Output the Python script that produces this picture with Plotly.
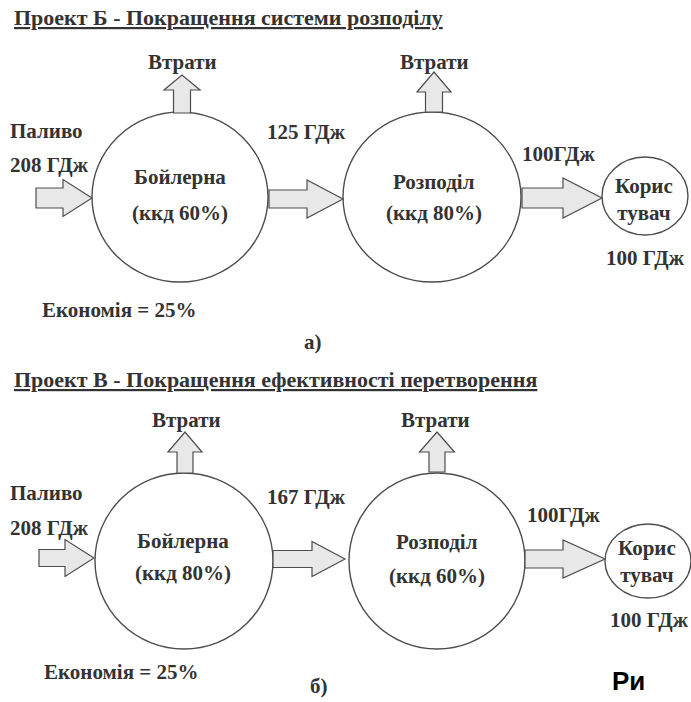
import plotly.graph_objects as go

# ---------------- data ----------------
project_titles = ["Проект Б - Покращення системи розподілу",
                  "Проект В - Покращення ефективності перетворення"]
panel_tags = ["а)", "б)"]
fuel_label = "Паливо"
loss_label = "Втрати"
stage_names = ["Бойлерна", "Розподіл", "Корис<br>тувач"]
unit = "ГДж"
fuel_input = [208, 208]          # ГДж
boiler_eff = [60, 80]            # %
distribution_eff = [80, 60]      # %
boiler_output = [125, 167]       # ГДж
distribution_output = [100, 100] # ГДж
consumer_energy = [100, 100]     # ГДж
savings = [25, 25]               # %
corner_text = "Ри"

# ---------------- layout geometry (pixels, not data) ----------------
W, H = 691, 702
panels = [
    dict(title_y=17, loss_y=62, loss_x=(182, 434), fuel_y=131, fuel_val_y=165,
         flow1=(265, 132), flow2=(520, 154),
         circles=[(180, 197, 88, 85), (432, 197, 89, 85), (645, 196, 43, 39)],
         stage_y=[(177, 213), (182, 213), (199, None)], stage_x=[180, 434, 644],
         user_val=(645, 258), savings=(40, 310), tag=(313, 342),
         arrows_r=[(36, 63, 92, 198, 10, 18.5), (269, 307, 343, 199, 9, 19),
                   (522, 563, 602, 198, 10, 20)],
         arrows_u=[(182, 113, 90, 75, 8.5, 18), (434, 112, 92, 72, 8.5, 17)]),
    dict(title_y=379, loss_y=420, loss_x=(186, 435), fuel_y=493, fuel_val_y=528,
         flow1=(265, 497), flow2=(525, 515),
         circles=[(184, 561, 89, 88), (437, 561, 88, 88), (648, 561, 43, 37)],
         stage_y=[(541, 573), (542, 576), (561, None)], stage_x=[183, 437, 647],
         user_val=(649, 620), savings=(42, 672), tag=(319, 686),
         arrows_r=[(39, 65, 94, 558, 8.5, 18.5), (273, 312, 345, 559, 8.5, 17.5),
                   (525, 563, 605, 559, 9, 19)],
         arrows_u=[(185, 473, 452, 432, 8, 17), (437, 472, 452, 432, 8, 17.5)]),
]

TXT = "#333333"
LINE = "#4d4d4d"
FILL = "#e8e8e8"
FONT = "Liberation Serif"
FS = 21
FS_TITLE = 22


def right_arrow(tail, base, tip, cy, sh, hh):
    return (f"M{tail},{cy-sh} L{base},{cy-sh} L{base},{cy-hh} L{tip},{cy} "
            f"L{base},{cy+hh} L{base},{cy+sh} L{tail},{cy+sh} Z")


def up_arrow(cx, bottom, base, tip, sw, hw):
    return (f"M{cx-sw},{bottom} L{cx-sw},{base} L{cx-hw},{base} L{cx},{tip} "
            f"L{cx+hw},{base} L{cx+sw},{base} L{cx+sw},{bottom} Z")


fig = go.Figure()
fig.add_trace(go.Scatter(x=[0, W], y=[0, H], mode="markers",
                         marker=dict(opacity=0), hoverinfo="skip", showlegend=False))

shapes, ann = [], []


def text(x, y, s, anchor="center", size=FS, color=TXT, family=FONT):
    ann.append(dict(x=x, y=y, xref="x", yref="y", text=s, showarrow=False,
                    xanchor=anchor, yanchor="middle",
                    font=dict(family=family, size=size, color=color)))


for i, g in enumerate(panels):
    # title
    text(12, g["title_y"], f"<b><u>{project_titles[i]}</u></b>", anchor="left", size=FS_TITLE)
    # circles
    for (cx, cy, rx, ry) in g["circles"]:
        shapes.append(dict(type="circle", xref="x", yref="y",
                           x0=cx - rx, x1=cx + rx, y0=cy - ry, y1=cy + ry,
                           line=dict(color=LINE, width=1.4), fillcolor="rgba(0,0,0,0)"))
    # arrows
    for a in g["arrows_r"]:
        shapes.append(dict(type="path", xref="x", yref="y", path=right_arrow(*a),
                           fillcolor=FILL, line=dict(color=LINE, width=1.2)))
    for a in g["arrows_u"]:
        shapes.append(dict(type="path", xref="x", yref="y", path=up_arrow(*a),
                           fillcolor=FILL, line=dict(color=LINE, width=1.2)))
    # loss labels
    for lx in g["loss_x"]:
        text(lx, g["loss_y"], f"<b>{loss_label}</b>")
    # fuel
    text(8, g["fuel_y"], f"<b>{fuel_label}</b>", anchor="left")
    text(8, g["fuel_val_y"], f"<b>{fuel_input[i]} {unit}</b>", anchor="left")
    # flows
    text(g["flow1"][0], g["flow1"][1], f"<b>{boiler_output[i]} {unit}</b>", anchor="left")
    text(g["flow2"][0], g["flow2"][1], f"<b>{distribution_output[i]}{unit}</b>", anchor="left")
    # stage labels
    effs = [boiler_eff[i], distribution_eff[i]]
    for k in range(2):
        y1, y2 = g["stage_y"][k]
        text(g["stage_x"][k], y1, f"<b>{stage_names[k]}</b>")
        text(g["stage_x"][k], y2, f"<b>(ккд {effs[k]}%)</b>")
    # consumer
    ann.append(dict(x=g["stage_x"][2], y=g["stage_y"][2][0], xref="x", yref="y",
                    text=f"<b>{stage_names[2]}</b>", showarrow=False,
                    xanchor="center", yanchor="middle", align="center",
                    font=dict(family=FONT, size=FS, color=TXT)))
    text(g["user_val"][0], g["user_val"][1], f"<b>{consumer_energy[i]} {unit}</b>")
    # savings and tag
    text(g["savings"][0], g["savings"][1], f"<b>Економія = {savings[i]}%</b>", anchor="left")
    text(g["tag"][0], g["tag"][1], f"<b>{panel_tags[i]}</b>")

text(610, 681, f"<b>{corner_text}</b>", anchor="left", size=26, color="#000000",
     family="Liberation Sans")

fig.update_layout(
    width=W, height=H,
    margin=dict(l=0, r=0, t=0, b=0),
    paper_bgcolor="white", plot_bgcolor="white",
    xaxis=dict(range=[0, W], visible=False, fixedrange=True),
    yaxis=dict(range=[H, 0], visible=False, fixedrange=True),
    shapes=shapes, annotations=ann, showlegend=False,
)

fig.write_html("out.html", config={"displayModeBar": False},
               post_script="document.body.style.margin='0';document.body.style.overflow='hidden';")
